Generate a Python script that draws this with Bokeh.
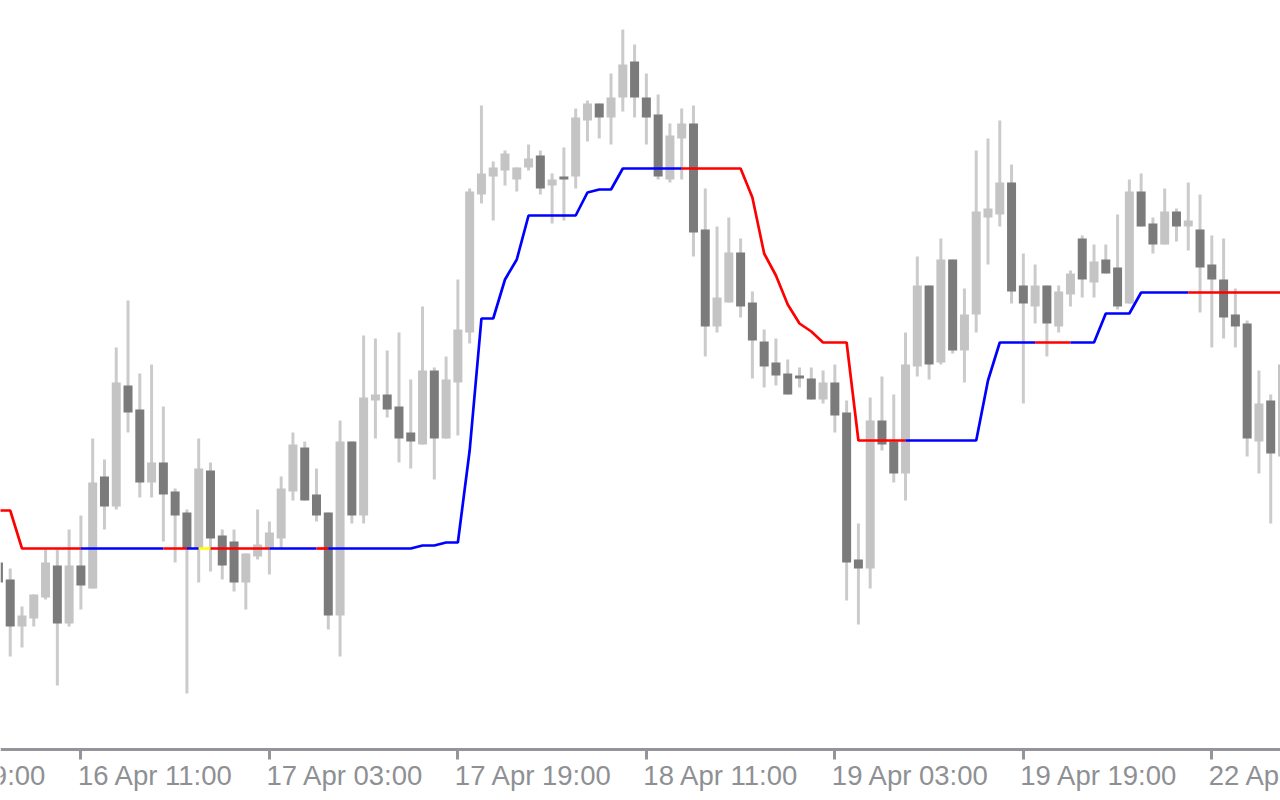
from bokeh.plotting import figure
from bokeh.models import Range1d, FixedTicker, ColumnDataSource, LabelSet
from bokeh.embed import file_html
from bokeh.resources import INLINE
from bokeh.core.properties import value

# H1 bars; bar index 0 = 16 Apr 11:00
bar_first, bar_last = -7, 102

opens = [438, 421, 374, 382, 403, 435, 377, 435, 412, 524,
         494, 615, 591, 518, 538, 509, 488, 452, 530, 465,
         459, 418, 444, 452, 462, 509, 553, 506, 488, 385,
         559, 485, 600, 606, 594, 568, 556, 630, 562, 618,
         668, 806, 824, 830, 821, 833, 845, 815, 824, 824,
         880, 897, 883, 903, 939, 903, 886, 821, 862, 877,
         771, 674, 698, 748, 698, 659, 638, 627, 625, 622,
         601, 618, 588, 441, 432, 580, 559, 527, 634, 715,
         638, 741, 650, 686, 783, 786, 818, 715, 694, 715,
         674, 706, 762, 718, 741, 733, 697, 809, 777, 756,
         789, 774, 771, 736, 721, 686, 677, 559, 600, 544]
highs = [445, 432, 394, 406, 451, 451, 471, 485, 562, 541,
         653, 700, 627, 636, 594, 512, 491, 562, 538, 471,
         471, 447, 491, 479, 524, 568, 559, 532, 488, 580,
         559, 665, 662, 650, 668, 621, 694, 633, 644, 721,
         812, 895, 839, 850, 833, 856, 850, 827, 853, 892,
         900, 897, 927, 971, 956, 927, 906, 877, 892, 895,
         812, 774, 783, 762, 709, 671, 662, 641, 633, 633,
         630, 636, 600, 477, 603, 624, 606, 668, 744, 715,
         762, 741, 712, 850, 862, 880, 836, 747, 736, 715,
         715, 730, 765, 756, 756, 786, 821, 827, 783, 812,
         792, 818, 806, 765, 762, 712, 680, 630, 606, 636]
lows = [410, 344, 353, 374, 401, 315, 374, 391, 412, 471,
        491, 568, 503, 503, 459, 438, 307, 418, 429, 421,
        409, 391, 441, 426, 452, 500, 500, 479, 371, 344,
        477, 477, 562, 583, 538, 532, 556, 521, 562, 565,
        657, 797, 780, 815, 809, 830, 806, 777, 780, 812,
        859, 862, 856, 889, 883, 856, 821, 818, 821, 744,
        644, 668, 698, 683, 622, 613, 615, 606, 613, 601,
        597, 568, 400, 376, 412, 550, 518, 500, 624, 621,
        636, 647, 618, 668, 736, 774, 697, 597, 677, 644,
        668, 694, 703, 703, 727, 691, 697, 774, 747, 756,
        759, 750, 688, 653, 662, 653, 544, 527, 477, 544]
closes = [418, 374, 385, 406, 438, 377, 435, 415, 518, 494,
          618, 588, 518, 538, 506, 485, 452, 532, 462, 435,
          418, 447, 456, 468, 512, 556, 500, 485, 385, 559,
          485, 603, 606, 591, 562, 559, 630, 562, 621, 671,
          809, 827, 833, 847, 833, 842, 812, 821, 821, 883,
          897, 883, 903, 936, 903, 883, 824, 865, 877, 768,
          674, 703, 748, 694, 660, 634, 625, 606, 622, 601,
          618, 585, 438, 432, 580, 556, 527, 636, 715, 636,
          741, 650, 686, 789, 792, 818, 709, 697, 715, 677,
          709, 727, 721, 739, 727, 694, 809, 774, 756, 789,
          774, 780, 733, 721, 683, 674, 562, 597, 547, 636]

# step-trend indicator value at each bar
indicator = [490, 490, 452, 452, 452, 452, 452, 452, 452, 452,
             452, 452, 452, 452, 452, 452, 452, 452, 452, 452,
             452, 452, 452, 452, 452, 452, 452, 452, 452, 452,
             452, 452, 452, 452, 452, 452, 455, 455, 458, 458,
             550, 682, 682, 721, 741, 785, 785, 785, 785, 785,
             808, 811, 811, 832, 832, 832, 832, 832, 832, 832,
             832, 832, 832, 832, 803, 747, 725, 696, 677, 669,
             658, 658, 658, 560, 560, 560, 560, 560, 560, 560,
             560, 560, 560, 560, 620, 658, 658, 658, 658, 658,
             658, 658, 658, 658, 687, 687, 687, 708, 708, 708,
             708, 708, 708, 708, 708, 708, 708, 708, 708, 708]
# indicator state runs (number of bar-to-bar segments in each colour)
trend_colors = ["red", "blue", "red", "blue", "yellow", "red", "blue",
                "red", "blue", "red", "blue", "red", "blue", "red"]
trend_lengths = [7, 7, 2, 1, 1, 5, 4, 1, 30, 19, 11, 3, 10, 8]

tick_bars = [-16, 0, 16, 32, 48, 64, 80, 96]
tick_labels = ["15 Apr 19:00", "16 Apr 11:00", "17 Apr 03:00", "17 Apr 19:00",
               "18 Apr 11:00", "19 Apr 03:00", "19 Apr 19:00", "22 Apr 11:00"]

bars = list(range(bar_first, bar_last + 1))
BULL, BEAR, WICK = "#c4c4c4", "#7b7b7b", "#cbcbcb"
AXIS = "#939599"

src = ColumnDataSource(dict(
    x=bars, open=opens, high=highs, low=lows, close=closes,
    top=[max(o, c) for o, c in zip(opens, closes)],
    bottom=[min(o, c) for o, c in zip(opens, closes)],
    color=[BULL if c >= o else BEAR for o, c in zip(opens, closes)],
))

p = figure(width=1280, height=800, output_backend="svg", toolbar_location=None,
           x_range=Range1d(-6.825, 101.83), y_range=Range1d(200, 1000),
           min_border=0, y_axis_location=None,
           background_fill_color="white", border_fill_color="white",
           outline_line_color=None)
p.grid.visible = False

p.segment(x0="x", y0="high", x1="x", y1="low", source=src,
          line_color=WICK, line_width=3)
p.vbar(x="x", width=0.764, top="top", bottom="bottom", source=src,
       fill_color="color", line_color=None)

xs, ys, cols = [], [], []
start = 0
for col, n in zip(trend_colors, trend_lengths):
    xs.append(bars[start:start + n + 1])
    ys.append(indicator[start:start + n + 1])
    cols.append(col)
    start += n
p.multi_line(xs=xs, ys=ys, line_color=cols, line_width=2.7)

# time axis drawn at the bottom of the price area
ax = p.xaxis[0]
ax.fixed_location = 251.5
ax.ticker = FixedTicker(ticks=tick_bars)
ax.axis_line_color = AXIS
ax.axis_line_width = 3
ax.major_tick_line_color = AXIS
ax.major_tick_line_width = 3
ax.major_tick_in = 0
ax.major_tick_out = 10
ax.minor_tick_line_color = None
ax.major_label_text_color = None

# tick labels start at their tick (left aligned)
lab_src = ColumnDataSource(dict(x=tick_bars, text=tick_labels))
labels = LabelSet(x="x", y=15.3, y_units="screen", text="text", source=lab_src,
                  x_offset=-3, text_align="left", text_baseline="alphabetic",
                  text_font=value("Liberation Sans"), text_font_size="27.5px",
                  text_color="#8e9094")
p.add_layout(labels)

open("out.html", "w").write(file_html(p, INLINE))
